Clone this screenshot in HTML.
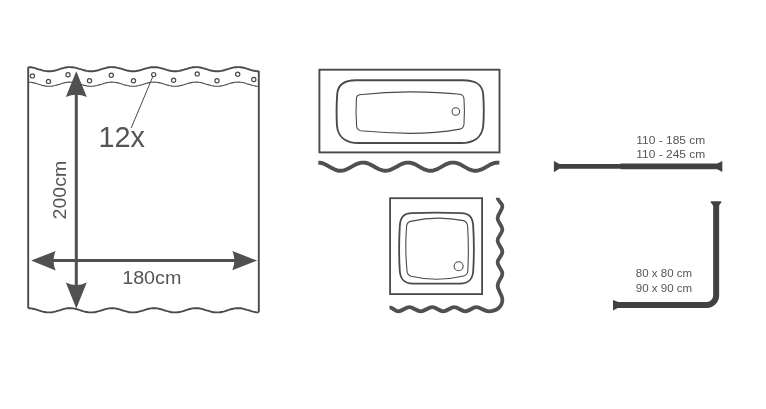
<!DOCTYPE html>
<html><head><meta charset="utf-8"><title>Shower curtain dimensions</title>
<style>html,body{margin:0;padding:0;background:#fff}svg{display:block;will-change:transform}</style></head>
<body>
<svg width="766" height="409" viewBox="0 0 766 409">
<rect width="766" height="409" fill="#fff"/>
<path d="M28.2,67.1 L29.7,67.2 L31.2,67.3 L32.7,67.6 L34.2,67.9 L35.7,68.3 L37.2,68.8 L38.7,69.3 L40.2,69.7 L41.7,70.2 L43.2,70.6 L44.7,70.9 L46.2,71.1 L47.7,71.3 L49.2,71.3 L50.7,71.2 L52.2,71.1 L53.7,70.8 L55.2,70.5 L56.7,70.1 L58.1,69.6 L59.6,69.2 L61.1,68.7 L62.6,68.2 L64.1,67.9 L65.6,67.5 L67.1,67.3 L68.6,67.1 L70.1,67.1 L71.6,67.2 L73.1,67.3 L74.6,67.6 L76.1,67.9 L77.6,68.3 L79.1,68.8 L80.6,69.2 L82.1,69.7 L83.6,70.1 L85.1,70.5 L86.6,70.9 L88.1,71.1 L89.6,71.3 L91.1,71.3 L92.6,71.2 L94.1,71.1 L95.6,70.8 L97.1,70.5 L98.6,70.1 L100.1,69.6 L101.6,69.2 L103.1,68.7 L104.6,68.3 L106.1,67.9 L107.6,67.5 L109.1,67.3 L110.6,67.1 L112.1,67.1 L113.6,67.2 L115.0,67.3 L116.5,67.6 L118.0,67.9 L119.5,68.3 L121.0,68.7 L122.5,69.2 L124.0,69.7 L125.5,70.1 L127.0,70.5 L128.5,70.8 L130.0,71.1 L131.5,71.2 L133.0,71.3 L134.5,71.2 L136.0,71.1 L137.5,70.8 L139.0,70.5 L140.5,70.1 L142.0,69.7 L143.5,69.2 L145.0,68.7 L146.5,68.3 L148.0,67.9 L149.5,67.6 L151.0,67.3 L152.5,67.2 L154.0,67.1 L155.5,67.2 L157.0,67.3 L158.5,67.6 L160.0,67.9 L161.5,68.3 L163.0,68.7 L164.5,69.2 L166.0,69.7 L167.5,70.1 L169.0,70.5 L170.5,70.8 L172.0,71.1 L173.4,71.2 L174.9,71.3 L176.4,71.3 L177.9,71.1 L179.4,70.9 L180.9,70.5 L182.4,70.1 L183.9,69.7 L185.4,69.2 L186.9,68.8 L188.4,68.3 L189.9,67.9 L191.4,67.6 L192.9,67.3 L194.4,67.2 L195.9,67.1 L197.4,67.1 L198.9,67.3 L200.4,67.5 L201.9,67.9 L203.4,68.3 L204.9,68.7 L206.4,69.2 L207.9,69.6 L209.4,70.1 L210.9,70.5 L212.4,70.8 L213.9,71.1 L215.4,71.2 L216.9,71.3 L218.4,71.3 L219.9,71.1 L221.4,70.9 L222.9,70.5 L224.4,70.2 L225.9,69.7 L227.4,69.2 L228.9,68.8 L230.3,68.3 L231.8,67.9 L233.3,67.6 L234.8,67.3 L236.3,67.2 L237.8,67.1 L239.3,67.1 L240.8,67.3 L242.3,67.5 L243.8,67.8 L245.3,68.2 L246.8,68.7 L248.3,69.1 L249.8,69.6 L251.3,70.1 L252.8,70.5 L254.3,70.8 L255.8,71.1 L257.3,71.2 L258.8,71.3" fill="none" stroke="#4a4a4a" stroke-width="1.9" stroke-linejoin="round"/>
<path d="M28.2,82.1 L29.7,82.2 L31.2,82.3 L32.7,82.6 L34.2,82.9 L35.7,83.3 L37.2,83.8 L38.7,84.3 L40.2,84.7 L41.7,85.2 L43.2,85.6 L44.7,85.9 L46.2,86.1 L47.7,86.3 L49.2,86.3 L50.7,86.2 L52.2,86.1 L53.7,85.8 L55.2,85.5 L56.7,85.1 L58.1,84.6 L59.6,84.2 L61.1,83.7 L62.6,83.2 L64.1,82.9 L65.6,82.5 L67.1,82.3 L68.6,82.1 L70.1,82.1 L71.6,82.2 L73.1,82.3 L74.6,82.6 L76.1,82.9 L77.6,83.3 L79.1,83.8 L80.6,84.2 L82.1,84.7 L83.6,85.1 L85.1,85.5 L86.6,85.9 L88.1,86.1 L89.6,86.3 L91.1,86.3 L92.6,86.2 L94.1,86.1 L95.6,85.8 L97.1,85.5 L98.6,85.1 L100.1,84.6 L101.6,84.2 L103.1,83.7 L104.6,83.3 L106.1,82.9 L107.6,82.5 L109.1,82.3 L110.6,82.1 L112.1,82.1 L113.6,82.2 L115.0,82.3 L116.5,82.6 L118.0,82.9 L119.5,83.3 L121.0,83.7 L122.5,84.2 L124.0,84.7 L125.5,85.1 L127.0,85.5 L128.5,85.8 L130.0,86.1 L131.5,86.2 L133.0,86.3 L134.5,86.2 L136.0,86.1 L137.5,85.8 L139.0,85.5 L140.5,85.1 L142.0,84.7 L143.5,84.2 L145.0,83.7 L146.5,83.3 L148.0,82.9 L149.5,82.6 L151.0,82.3 L152.5,82.2 L154.0,82.1 L155.5,82.2 L157.0,82.3 L158.5,82.6 L160.0,82.9 L161.5,83.3 L163.0,83.7 L164.5,84.2 L166.0,84.7 L167.5,85.1 L169.0,85.5 L170.5,85.8 L172.0,86.1 L173.4,86.2 L174.9,86.3 L176.4,86.3 L177.9,86.1 L179.4,85.9 L180.9,85.5 L182.4,85.1 L183.9,84.7 L185.4,84.2 L186.9,83.8 L188.4,83.3 L189.9,82.9 L191.4,82.6 L192.9,82.3 L194.4,82.2 L195.9,82.1 L197.4,82.1 L198.9,82.3 L200.4,82.5 L201.9,82.9 L203.4,83.3 L204.9,83.7 L206.4,84.2 L207.9,84.6 L209.4,85.1 L210.9,85.5 L212.4,85.8 L213.9,86.1 L215.4,86.2 L216.9,86.3 L218.4,86.3 L219.9,86.1 L221.4,85.9 L222.9,85.5 L224.4,85.2 L225.9,84.7 L227.4,84.2 L228.9,83.8 L230.3,83.3 L231.8,82.9 L233.3,82.6 L234.8,82.3 L236.3,82.2 L237.8,82.1 L239.3,82.1 L240.8,82.3 L242.3,82.5 L243.8,82.8 L245.3,83.2 L246.8,83.7 L248.3,84.1 L249.8,84.6 L251.3,85.1 L252.8,85.5 L254.3,85.8 L255.8,86.1 L257.3,86.2 L258.8,86.3" fill="none" stroke="#4a4a4a" stroke-width="1.1"/>
<path d="M28.2,308.2 L29.7,308.2 L31.2,308.4 L32.7,308.7 L34.2,309.0 L35.7,309.4 L37.2,309.9 L38.7,310.4 L40.2,310.8 L41.7,311.3 L43.2,311.7 L44.7,312.0 L46.2,312.3 L47.7,312.4 L49.2,312.4 L50.7,312.4 L52.2,312.2 L53.7,311.9 L55.2,311.6 L56.7,311.2 L58.1,310.7 L59.6,310.3 L61.1,309.8 L62.6,309.3 L64.1,308.9 L65.6,308.6 L67.1,308.3 L68.6,308.2 L70.1,308.2 L71.6,308.2 L73.1,308.4 L74.6,308.6 L76.1,309.0 L77.6,309.4 L79.1,309.9 L80.6,310.3 L82.1,310.8 L83.6,311.3 L85.1,311.7 L86.6,312.0 L88.1,312.3 L89.6,312.4 L91.1,312.4 L92.6,312.4 L94.1,312.2 L95.6,312.0 L97.1,311.6 L98.6,311.2 L100.1,310.8 L101.6,310.3 L103.1,309.8 L104.6,309.3 L106.1,308.9 L107.6,308.6 L109.1,308.4 L110.6,308.2 L112.1,308.2 L113.6,308.2 L115.0,308.4 L116.5,308.6 L118.0,309.0 L119.5,309.4 L121.0,309.8 L122.5,310.3 L124.0,310.8 L125.5,311.2 L127.0,311.6 L128.5,312.0 L130.0,312.2 L131.5,312.4 L133.0,312.4 L134.5,312.4 L136.0,312.2 L137.5,312.0 L139.0,311.6 L140.5,311.2 L142.0,310.8 L143.5,310.3 L145.0,309.8 L146.5,309.4 L148.0,309.0 L149.5,308.6 L151.0,308.4 L152.5,308.2 L154.0,308.2 L155.5,308.2 L157.0,308.4 L158.5,308.6 L160.0,309.0 L161.5,309.4 L163.0,309.8 L164.5,310.3 L166.0,310.8 L167.5,311.2 L169.0,311.6 L170.5,312.0 L172.0,312.2 L173.4,312.4 L174.9,312.4 L176.4,312.4 L177.9,312.2 L179.4,312.0 L180.9,311.7 L182.4,311.3 L183.9,310.8 L185.4,310.3 L186.9,309.8 L188.4,309.4 L189.9,309.0 L191.4,308.6 L192.9,308.4 L194.4,308.2 L195.9,308.2 L197.4,308.2 L198.9,308.3 L200.4,308.6 L201.9,308.9 L203.4,309.3 L204.9,309.8 L206.4,310.3 L207.9,310.7 L209.4,311.2 L210.9,311.6 L212.4,312.0 L213.9,312.2 L215.4,312.4 L216.9,312.4 L218.4,312.4 L219.9,312.3 L221.4,312.0 L222.9,311.7 L224.4,311.3 L225.9,310.8 L227.4,310.3 L228.9,309.9 L230.3,309.4 L231.8,309.0 L233.3,308.7 L234.8,308.4 L236.3,308.2 L237.8,308.2 L239.3,308.2 L240.8,308.3 L242.3,308.6 L243.8,308.9 L245.3,309.3 L246.8,309.8 L248.3,310.2 L249.8,310.7 L251.3,311.2 L252.8,311.6 L254.3,311.9 L255.8,312.2 L257.3,312.4 L258.8,312.4" fill="none" stroke="#4a4a4a" stroke-width="1.9" stroke-linejoin="round"/>
<path d="M28.2,67 V308.3 M258.8,71 V312.3" fill="none" stroke="#4a4a4a" stroke-width="1.9"/>
<circle cx="32.4" cy="75.9" r="2.1" fill="#fff" stroke="#4a4a4a" stroke-width="1.2"/>
<circle cx="48.5" cy="81.4" r="2.1" fill="#fff" stroke="#4a4a4a" stroke-width="1.2"/>
<circle cx="68.0" cy="74.8" r="2.1" fill="#fff" stroke="#4a4a4a" stroke-width="1.2"/>
<circle cx="89.5" cy="80.7" r="2.1" fill="#fff" stroke="#4a4a4a" stroke-width="1.2"/>
<circle cx="111.3" cy="75.3" r="2.1" fill="#fff" stroke="#4a4a4a" stroke-width="1.2"/>
<circle cx="133.5" cy="80.7" r="2.1" fill="#fff" stroke="#4a4a4a" stroke-width="1.2"/>
<circle cx="153.7" cy="74.6" r="2.1" fill="#fff" stroke="#4a4a4a" stroke-width="1.2"/>
<circle cx="173.6" cy="80.3" r="2.1" fill="#fff" stroke="#4a4a4a" stroke-width="1.2"/>
<circle cx="197.2" cy="73.9" r="2.1" fill="#fff" stroke="#4a4a4a" stroke-width="1.2"/>
<circle cx="217.0" cy="80.7" r="2.1" fill="#fff" stroke="#4a4a4a" stroke-width="1.2"/>
<circle cx="237.7" cy="74.3" r="2.1" fill="#fff" stroke="#4a4a4a" stroke-width="1.2"/>
<circle cx="253.8" cy="79.5" r="2.1" fill="#fff" stroke="#4a4a4a" stroke-width="1.2"/>
<path d="M152.8,76.6 L131.2,128" stroke="#4a4a4a" stroke-width="1" fill="none"/>
<path d="M76.3,90 V290" stroke="#505050" stroke-width="3" fill="none"/>
<path d="M40,260.6 H248" stroke="#505050" stroke-width="3" fill="none"/>
<path d="M76.3,71.3 L86.8,97 Q76.3,92.5 65.8,97 Z" fill="#505050"/>
<path d="M76.3,308.5 L86.8,282.4 Q76.3,287.5 65.8,282.4 Z" fill="#505050"/>
<path d="M31.1,260.6 L55.6,251 Q51.5,260.6 55.6,270.4 Z" fill="#505050"/>
<path d="M257.2,260.6 L232.3,251 Q236.5,260.6 232.3,270.2 Z" fill="#505050"/>
<text x="122.2" y="284.2" font-family="Liberation Sans, sans-serif" font-size="19.1" fill="#555" textLength="59.2" lengthAdjust="spacingAndGlyphs">180cm</text>
<text transform="translate(65.5,219.4) rotate(-90)" font-family="Liberation Sans, sans-serif" font-size="19.1" fill="#555" textLength="58.6" lengthAdjust="spacingAndGlyphs">200cm</text>
<text x="98.4" y="147" font-family="Liberation Sans, sans-serif" font-size="29.8" fill="#555" textLength="46.4" lengthAdjust="spacingAndGlyphs">12x</text>
<rect x="319.4" y="69.7" width="180.1" height="82.7" fill="none" stroke="#4a4a4a" stroke-width="1.9"/>
<path d="M356,80.3 H463 C474,80.3 482,83 483.2,94 C483.9,105 483.9,118 483.2,126 C482,137 474,143 461,143 H359 C346,143 338,137 337,126 C336.5,118 336.5,105 337.2,94 C338,83 346,80.3 356,80.3 Z" fill="none" stroke="#4a4a4a" stroke-width="1.9"/>
<path d="M359.5,94.7 Q385,92 410,91.9 Q440,92 460,94.3 Q463.6,95 464,99 Q464.9,111 464,124 Q463.5,128.6 460,129.1 Q435,133.4 410,133.4 Q385,133 360.5,130.7 Q357,130 356.6,126 Q355.6,111 356.4,98.5 Q356.8,95.2 359.5,94.7 Z" fill="none" stroke="#4a4a4a" stroke-width="1.1"/>
<circle cx="455.8" cy="111.5" r="3.8" fill="none" stroke="#4a4a4a" stroke-width="1.1"/>
<path d="M318.3,162.6 L319.8,162.7 L321.3,163.0 L322.8,163.4 L324.3,164.0 L325.8,164.7 L327.3,165.5 L328.8,166.4 L330.3,167.2 L331.8,168.1 L333.3,168.8 L334.8,169.5 L336.3,170.1 L337.8,170.5 L339.3,170.7 L340.8,170.7 L342.2,170.6 L343.7,170.3 L345.2,169.9 L346.7,169.3 L348.2,168.6 L349.7,167.8 L351.2,166.9 L352.7,166.1 L354.2,165.3 L355.7,164.5 L357.2,163.8 L358.7,163.3 L360.2,162.9 L361.7,162.6 L363.2,162.6 L364.7,162.7 L366.2,163.0 L367.7,163.4 L369.2,164.0 L370.7,164.7 L372.2,165.5 L373.7,166.3 L375.2,167.2 L376.7,168.0 L378.2,168.8 L379.7,169.5 L381.2,170.0 L382.7,170.4 L384.2,170.7 L385.7,170.7 L387.1,170.6 L388.6,170.4 L390.1,169.9 L391.6,169.3 L393.1,168.6 L394.6,167.8 L396.1,167.0 L397.6,166.2 L399.1,165.3 L400.6,164.5 L402.1,163.9 L403.6,163.3 L405.1,162.9 L406.6,162.6 L408.1,162.6 L409.6,162.7 L411.1,162.9 L412.6,163.4 L414.1,163.9 L415.6,164.6 L417.1,165.4 L418.6,166.3 L420.1,167.1 L421.6,168.0 L423.1,168.7 L424.6,169.4 L426.1,170.0 L427.6,170.4 L429.1,170.7 L430.6,170.7 L432.0,170.7 L433.5,170.4 L435.0,170.0 L436.5,169.4 L438.0,168.7 L439.5,167.9 L441.0,167.1 L442.5,166.2 L444.0,165.4 L445.5,164.6 L447.0,163.9 L448.5,163.3 L450.0,162.9 L451.5,162.6 L453.0,162.6 L454.5,162.6 L456.0,162.9 L457.5,163.3 L459.0,163.9 L460.5,164.6 L462.0,165.4 L463.5,166.2 L465.0,167.1 L466.5,167.9 L468.0,168.7 L469.5,169.4 L471.0,170.0 L472.5,170.4 L474.0,170.7 L475.5,170.7 L476.9,170.7 L478.4,170.4 L479.9,170.0 L481.4,169.4 L482.9,168.7 L484.4,168.0 L485.9,167.1 L487.4,166.3 L488.9,165.4 L490.4,164.6 L491.9,163.9 L493.4,163.4 L494.9,162.9 L496.4,162.7 L497.9,162.6 L499.4,162.6" fill="none" stroke="#505050" stroke-width="3.9"/>
<rect x="390.1" y="198.2" width="92" height="95.9" fill="none" stroke="#4a4a4a" stroke-width="1.8"/>
<path d="M412,213.2 Q436,212.2 461,213.2 C469.5,213.6 472.6,217 473.2,226 C474,240 474,258 473.2,271 C472.6,279.5 469,283.4 460,283.6 H413 C404,283.4 400.4,279.5 399.8,271 C399,258 399,240 399.8,226 C400.4,217 403.5,213.6 412,213.2 Z" fill="none" stroke="#4a4a4a" stroke-width="1.8"/>
<path d="M410.5,221.4 Q437,215.2 463.5,220.6 Q467,221.5 467.6,226 Q469,248 467.8,271 Q467.4,275 463.5,276 Q437,282.4 411,276.2 Q407.4,275.2 407,271 Q404.8,248 406.6,226 Q407,222.4 410.5,221.4 Z" fill="none" stroke="#4a4a4a" stroke-width="1.1"/>
<circle cx="458.6" cy="266.2" r="4.5" fill="none" stroke="#4a4a4a" stroke-width="1.1"/>
<path d="M497.6,197.8 C497.6,200.9 502.4,203.1 502.4,206.2 C502.4,210.6 497.6,213.8 497.6,218.2 C497.6,222.3 502.4,225.4 502.4,229.5 C502.4,233.5 497.6,236.5 497.6,240.5 C497.6,244.6 502.4,247.7 502.4,251.8 C502.4,255.7 497.6,258.6 497.6,262.5 C497.6,266.5 502.4,269.6 502.4,273.6 C502.4,278.0 497.6,281.2 497.6,285.6 C497.6,290.7 502.4,294.4 502.4,299.5 C502.4,306.5 497,311.3 488.5,311.3 C484.1,311.3 480.7,307.2 476.3,307.2 C472.3,307.2 469.3,311.3 465.3,311.3 C461.3,311.3 458.3,307.2 454.3,307.2 C450.3,307.2 447.3,311.3 443.3,311.3 C439.3,311.3 436.3,307.2 432.3,307.2 C428.1,307.2 424.9,311.3 420.7,311.3 C416.6,311.3 413.5,307.2 409.4,307.2 C405.4,307.2 402.3,311.3 398.3,311.3 C395.1,311.3 392.7,307.4 389.5,307.4" fill="none" stroke="#505050" stroke-width="3.8" stroke-linejoin="round"/>
<path d="M557,166.3 H621" stroke="#414141" stroke-width="4.7" fill="none"/>
<path d="M620.7,166.35 H719" stroke="#414141" stroke-width="5.7" fill="none"/>
<path d="M553.9,160.9 L559.6,164 V168.6 L553.9,172.2 Z" fill="#414141"/>
<path d="M722.3,161 L717.4,163.5 V169.2 L722.3,171.9 Z" fill="#414141"/>
<path d="M716.15,204 V295.6 A9.3,9.3 0 0 1 706.85,304.9 H616" stroke="#414141" stroke-width="6" fill="none"/>
<path d="M710.8,201.3 H721.2 V202.5 L719.1,205.5 H713.1 L710.8,202.5 Z" fill="#414141"/>
<path d="M613,299.9 L618.3,302 V307.8 L613,310.5 Z" fill="#414141"/>
<text x="636.3" y="143.9" font-family="Liberation Sans, sans-serif" font-size="11.5" fill="#555" textLength="69" lengthAdjust="spacingAndGlyphs">110 - 185 cm</text>
<text x="636.3" y="157.9" font-family="Liberation Sans, sans-serif" font-size="11.5" fill="#555" textLength="69" lengthAdjust="spacingAndGlyphs">110 - 245 cm</text>
<text x="635.8" y="277.3" font-family="Liberation Sans, sans-serif" font-size="11.5" fill="#555" textLength="56.3" lengthAdjust="spacingAndGlyphs">80 x 80 cm</text>
<text x="635.8" y="291.6" font-family="Liberation Sans, sans-serif" font-size="11.5" fill="#555" textLength="56.3" lengthAdjust="spacingAndGlyphs">90 x 90 cm</text>
</svg>
</body></html>
